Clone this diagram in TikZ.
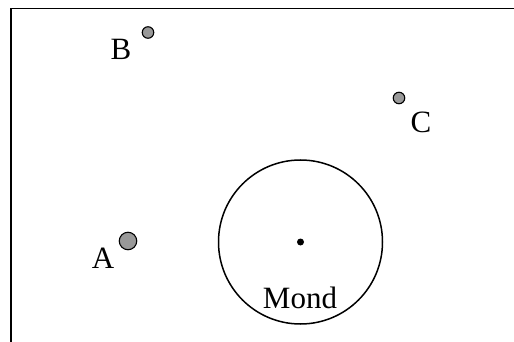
\documentclass[tikz,border=0pt]{standalone}
\usepackage{fontspec}
\setmainfont{Liberation Serif}
\begin{document}
\begin{tikzpicture}[x=1pt,y=-1pt,
  lbl/.style={font=\fontsize{31}{34}\selectfont,inner sep=0pt,anchor=base},
  pdot/.style={circle,draw=black,line width=1.1pt,fill=black!40,inner sep=0pt},
  frameline/.style={line width=1.5pt}]
\useasboundingbox (0,0) rectangle (514,342);
\coordinate (tr) at (514,8.5);
\coordinate (tl) at (11,8.5);
\coordinate (bl) at (11,342);
\draw[frameline] (tr) -- (tl) -- (bl);
% moon
\node[circle,draw=black,line width=1.5pt,minimum size=164pt,inner sep=0pt] (mond) at (300.5,242) {};
\node[circle,fill=black,minimum size=7pt,inner sep=0pt] (mc) at (300.5,242) {};
\node[lbl] (mondl) at (300,308) {Mond};
% points
\node[pdot,minimum size=11.5pt] (b) at (148,32.5) {};
\node[lbl] (bl1) at (121,60) {B};
\node[pdot,minimum size=11.5pt] (c) at (399,98) {};
\node[lbl] (cl) at (421,133) {C};
\node[pdot,minimum size=17.5pt] (a) at (128,241) {};
\node[lbl] (al) at (103,268) {A};
\end{tikzpicture}
\end{document}
